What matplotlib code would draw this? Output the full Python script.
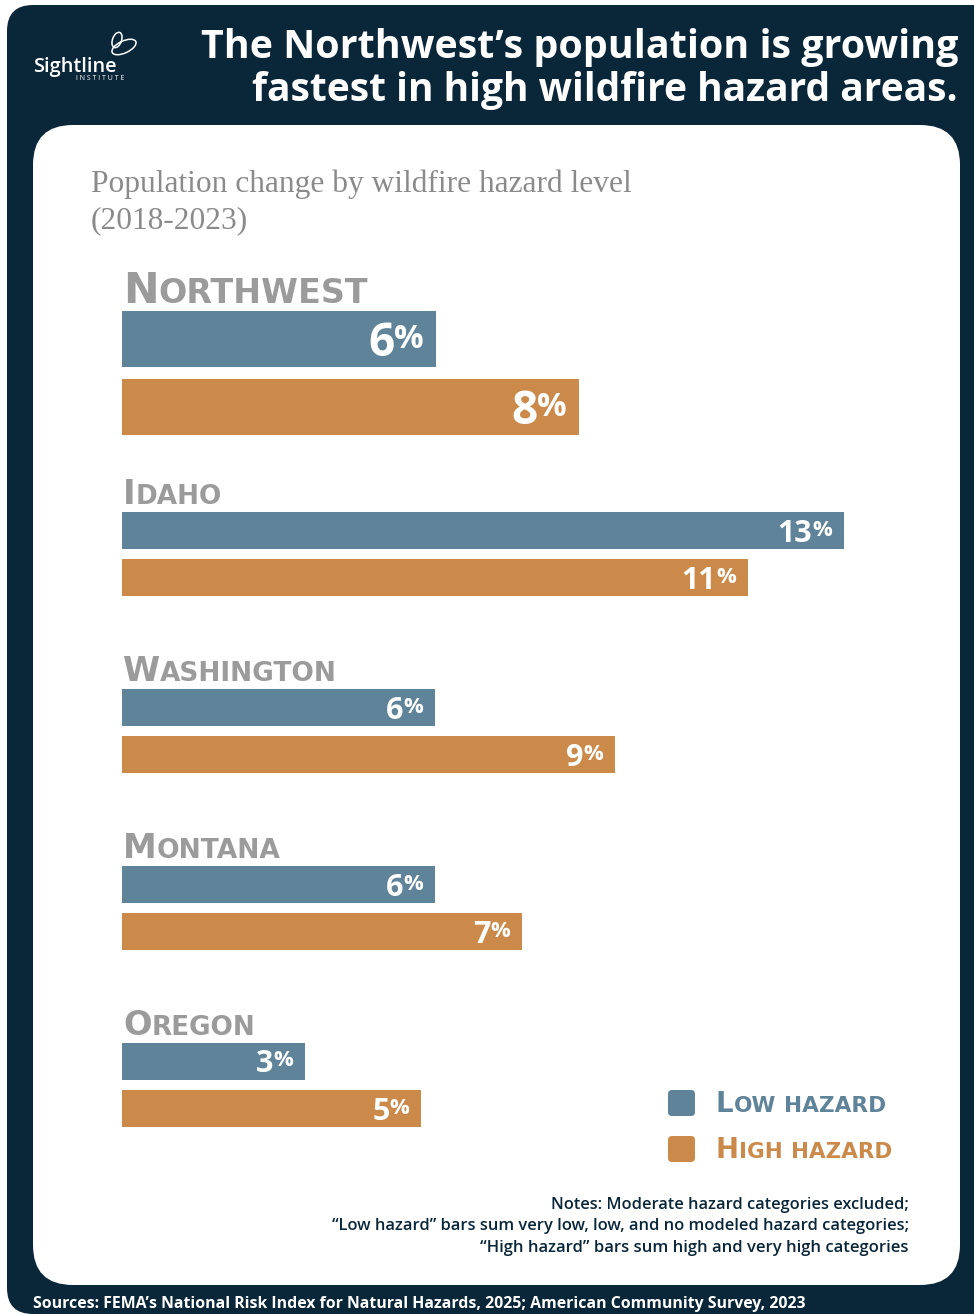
import matplotlib
matplotlib.use("Agg")
import matplotlib.pyplot as plt
from matplotlib.patches import FancyBboxPatch, Ellipse

# data (percent population change 2018-2023)
regions = ["Northwest", "Idaho", "Washington", "Montana", "Oregon"]
low_hazard = [5.65, 13.0, 5.64, 5.63, 3.3]
high_hazard = [8.23, 11.27, 8.88, 7.2, 5.39]
series_names = ["Low hazard", "High hazard"]

NAVY = "#0a2639"
BLUE = "#5f8399"
ORANGE = "#cb8a4a"
GRAY = "#9b9b9b"
SUB_GRAY = "#8a8a8a"
SANS = ["Open Sans", "DejaVu Sans"]
WIDE = ["DejaVu Sans"]

W, H = 974, 1315
fig = plt.figure(figsize=(W / 100, H / 100), dpi=100)
fig.patch.set_facecolor("white")
bg = fig.add_axes([0, 0, 1, 1])
bg.set_xlim(0, W)
bg.set_ylim(H, 0)
bg.axis("off")
bg.set_zorder(0)
renderer = fig.canvas.get_renderer()

bg.add_patch(FancyBboxPatch((7, 5), 1100, 1309, boxstyle="round,pad=0,rounding_size=26",
                            fc=NAVY, ec="none"))
bg.add_patch(FancyBboxPatch((33, 125), 927, 1160, boxstyle="round,pad=0,rounding_size=40",
                            fc="white", ec="none"))

# bars: x in percent, 55.54 px per percent starting at px 122
ppp = 722 / 13.0
x0 = 122
bx = fig.add_axes([x0 / W, 0, (W - x0) / W, 1])
bx.set_xlim(0, (W - x0) / ppp)
bx.set_ylim(H, 0)
bx.axis("off")
bx.set_zorder(1)

# overlay for all text, in pixel coords
fg = fig.add_axes([0, 0, 1, 1])
fg.set_xlim(0, W)
fg.set_ylim(H, 0)
fg.axis("off")
fg.set_zorder(2)


def width_of(t):
    return t.get_window_extent(renderer).width


def fit(x, y, s, target, size=20, ax=fg, **kw):
    t = ax.text(x, y, s, fontsize=size, **kw)
    t.set_fontsize(size * target / width_of(t))
    return t


def _caps(x, y, s, big, color, ratio):
    arts = []
    cx = x
    for word in s.split(" "):
        if arts:
            sp = fg.text(cx, y, "\u00a0", fontsize=big * ratio, family=WIDE, weight="bold")
            cx += width_of(sp) * 1.1
            arts.append(sp)
        if word[0].isupper():
            first = fg.text(cx, y, word[0], fontsize=big, color=color, family=WIDE,
                            weight="bold", va="baseline")
            cx += width_of(first)
            arts.append(first)
            word = word[1:]
        rest = fg.text(cx, y, word.upper(), fontsize=big * ratio, color=color, family=WIDE,
                       weight="bold", va="baseline")
        cx += width_of(rest)
        arts.append(rest)
    return arts, cx - x


def small_caps(x, y, s, target, color, ratio=0.78):
    # fake small caps: capital letters big, the rest upper-cased and smaller
    arts, w = _caps(x, y, s, 20, color, ratio)
    for a in arts:
        a.remove()
    _caps(x, y, s, 20 * target / w, color, ratio)


# header
fit(958, 47, "The Northwest\u2019s population is growing", 755, color="white",
    family=SANS, weight="bold", ha="right", va="center")
fit(958, 90, "fastest in high wildfire hazard areas.", 708, color="white",
    family=SANS, weight="bold", ha="right", va="center")

# logo
fit(33, 72, "Sightline", 84, color="white", family=SANS, weight="semibold", va="baseline")
fit(76, 80, "I N S T I T U T E", 47, size=4, color="white", family=SANS, va="baseline")
fg.add_patch(Ellipse((124, 47), 26, 12, angle=-25, fc="none", ec="white", lw=1.1))
fg.add_patch(Ellipse((117, 40), 9, 16, angle=20, fc="none", ec="white", lw=1.1))

# subtitle
fit(91, 192, "Population change by wildfire hazard level", 539, color=SUB_GRAY,
    family=["Liberation Serif", "DejaVu Serif"], va="baseline")
fit(91, 228, "(2018-2023)", 156, color=SUB_GRAY,
    family=["Liberation Serif", "DejaVu Serif"], va="baseline")

label_base = [303, 504, 681, 858, 1035]
label_w = [245, 99, 214, 158, 133]
low_center = [339, 530.5, 707.5, 884.5, 1061.5]
high_center = [407, 577.5, 754.5, 931.5, 1108.5]
bar_h = [56, 37, 37, 37, 37]
pct_size = [33, 22, 22, 22, 22]

bx.barh(low_center, low_hazard, height=bar_h, color=BLUE, left=0)
bx.barh(high_center, high_hazard, height=bar_h, color=ORANGE, left=0)

for i, name in enumerate(regions):
    small_caps(123, label_base[i], name, label_w[i], GRAY)
    for val, yc in ((low_hazard[i], low_center[i]), (high_hazard[i], high_center[i])):
        xr = x0 + val * ppp - 12
        fs = pct_size[i]
        cap = fs * 100 / 72 * 0.72
        base = yc + cap / 2
        pc = fg.text(xr, base - cap, "%", fontsize=fs * 0.72, color="white", family=SANS,
                     weight="bold", ha="right", va="top")
        pw = width_of(pc)
        fg.text(xr - pw, base, f"{round(val)}", fontsize=fs, color="white", family=SANS,
                weight="bold", ha="right", va="baseline")

# legend
for (yc, col, name, w) in ((1103, BLUE, series_names[0], 170),
                           (1149, ORANGE, series_names[1], 176)):
    fg.add_patch(FancyBboxPatch((668, yc - 13), 27, 26, boxstyle="round,pad=0,rounding_size=4",
                                fc=col, ec="none"))
    small_caps(716, yc + 9, name, w, col)

# notes
notes = ["Notes: Moderate hazard categories excluded;",
         "\u201cLow hazard\u201d bars sum very low, low, and no modeled hazard categories;",
         "\u201cHigh hazard\u201d bars sum high and very high categories"]
note_w = [355, 576, 427]
for k, (s, w) in enumerate(zip(notes, note_w)):
    fit(909, 1205 + k * 21.5, s, w, size=11, color=NAVY, family=SANS, weight="semibold",
        ha="right", va="center")

fit(33, 1304, "Sources: FEMA\u2019s National Risk Index for Natural Hazards, 2025; "
    "American Community Survey, 2023", 770, size=11, color="white", family=SANS,
    weight="bold", va="center")

fig.savefig("out.png", dpi=100, facecolor="white")
